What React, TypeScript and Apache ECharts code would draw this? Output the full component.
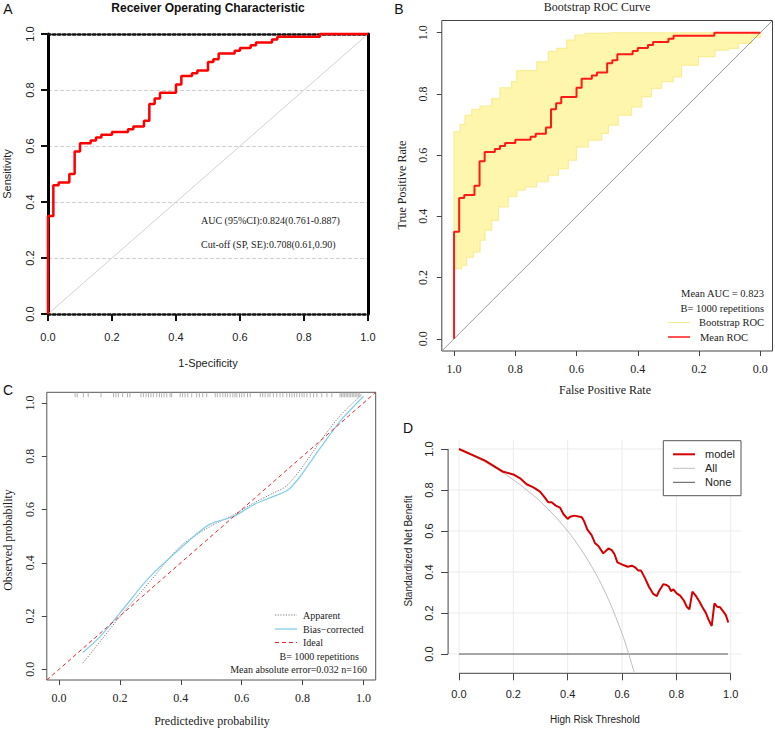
import React, { useEffect, useRef } from 'react';
import * as echarts from 'echarts';

// ---------- Panel A / B : empirical ROC (steps) ----------
const rocFpr = [0, 0, 0.0167, 0.0333, 0.0667, 0.0833, 0.1, 0.1333, 0.15, 0.1667, 0.2, 0.25, 0.2667, 0.3, 0.3167, 0.3333, 0.35, 0.4, 0.4167, 0.45, 0.4667, 0.5, 0.5167, 0.5333, 0.5833, 0.6, 0.6333, 0.65, 0.7, 0.7167, 0.85, 1];
const rocTpr = [0, 0.35, 0.46, 0.47, 0.5, 0.58, 0.61, 0.62, 0.63, 0.64, 0.65, 0.66, 0.67, 0.69, 0.75, 0.77, 0.79, 0.82, 0.85, 0.86, 0.87, 0.9, 0.91, 0.93, 0.94, 0.95, 0.96, 0.97, 0.98, 0.99, 1.0, 1.0];

// ---------- Panel B : envelope of the bootstrap ROC curves ----------
const bootUpperFpr = [0, 0.02, 0.036, 0.058, 0.085, 0.123, 0.15, 0.188, 0.205, 0.243, 0.27, 0.308, 0.335, 0.368, 0.395, 0.428, 0.51, 1];
const bootUpperTpr = [0.676, 0.7, 0.73, 0.75, 0.76, 0.785, 0.82, 0.84, 0.876, 0.876, 0.905, 0.938, 0.949, 0.976, 0.992, 0.998, 1.0, 1.0];
const bootLowerFpr = [0, 0.025, 0.041, 0.063, 0.085, 0.101, 0.123, 0.145, 0.177, 0.205, 0.232, 0.27, 0.308, 0.341, 0.373, 0.4, 0.439, 0.482, 0.504, 0.536, 0.58, 0.613, 0.645, 0.678, 0.716, 0.743, 0.798, 0.852, 0.896, 0.928, 0.961, 0.972, 1.0];
const bootLowerTpr = [0.229, 0.24, 0.267, 0.284, 0.322, 0.355, 0.387, 0.431, 0.464, 0.486, 0.496, 0.513, 0.535, 0.556, 0.584, 0.627, 0.649, 0.671, 0.698, 0.731, 0.758, 0.791, 0.818, 0.84, 0.856, 0.894, 0.922, 0.943, 0.949, 0.965, 0.965, 0.985, 1.0];

// ---------- Panel C : calibration ----------
const calApparentX = [0.078, 0.135, 0.2, 0.299, 0.398, 0.496, 0.573, 0.639, 0.704, 0.745, 0.792, 0.858, 0.923, 0.994];
const calApparentY = [0.023, 0.104, 0.198, 0.33, 0.461, 0.536, 0.58, 0.624, 0.662, 0.687, 0.749, 0.856, 0.952, 1.031];
const calBiasX = [0.078, 0.135, 0.2, 0.299, 0.43, 0.496, 0.573, 0.639, 0.704, 0.75, 0.792, 0.858, 0.923, 1.0];
const calBiasY = [0.063, 0.123, 0.211, 0.348, 0.486, 0.545, 0.574, 0.618, 0.649, 0.672, 0.724, 0.831, 0.931, 1.025];
const rugPred = [0.053, 0.06, 0.08, 0.096, 0.138, 0.179, 0.187, 0.195, 0.209, 0.225, 0.233, 0.269, 0.277, 0.286, 0.294, 0.302, 0.31, 0.321, 0.33, 0.337, 0.345, 0.354, 0.365, 0.37, 0.398, 0.406, 0.414, 0.423, 0.436, 0.452, 0.461, 0.472, 0.485, 0.513, 0.52, 0.529, 0.538, 0.546, 0.553, 0.562, 0.571, 0.578, 0.584, 0.593, 0.6, 0.608, 0.619, 0.628, 0.661, 0.669, 0.677, 0.686, 0.693, 0.704, 0.715, 0.726, 0.735, 0.748, 0.757, 0.765, 0.773, 0.781, 0.79, 0.798, 0.805, 0.814, 0.825, 0.836, 0.847, 0.863, 0.88, 0.896, 0.923, 0.928, 0.933, 0.938, 0.943, 0.948, 0.953, 0.958, 0.963, 0.968, 0.973, 0.978, 0.983, 0.988];

// ---------- Panel D : decision curve ----------
const dcaThreshold = [0, 0.096, 0.163, 0.2, 0.225, 0.249, 0.274, 0.298, 0.314, 0.329, 0.341, 0.356, 0.372, 0.384, 0.4, 0.409, 0.425, 0.452, 0.461, 0.472, 0.488, 0.501, 0.513, 0.531, 0.55, 0.562, 0.572, 0.583, 0.605, 0.621, 0.636, 0.648, 0.66, 0.67, 0.685, 0.699, 0.715, 0.728, 0.737, 0.752, 0.764, 0.773, 0.78, 0.789, 0.801, 0.814, 0.828, 0.838, 0.848, 0.859, 0.871, 0.883, 0.896, 0.908, 0.918, 0.93, 0.94, 0.95, 0.961, 0.973, 0.982, 0.991];
const dcaModel = [1.0, 0.943, 0.889, 0.876, 0.857, 0.828, 0.813, 0.792, 0.767, 0.74, 0.74, 0.724, 0.714, 0.683, 0.659, 0.67, 0.675, 0.667, 0.646, 0.608, 0.58, 0.54, 0.527, 0.491, 0.515, 0.507, 0.488, 0.447, 0.434, 0.426, 0.431, 0.423, 0.407, 0.407, 0.369, 0.328, 0.293, 0.283, 0.309, 0.34, 0.337, 0.328, 0.307, 0.315, 0.296, 0.285, 0.26, 0.231, 0.218, 0.304, 0.285, 0.26, 0.228, 0.202, 0.169, 0.137, 0.247, 0.231, 0.228, 0.207, 0.19, 0.154];
const dcaAllThreshold = [0, 0.05, 0.1, 0.15, 0.2, 0.25, 0.3, 0.35, 0.4, 0.45, 0.5, 0.55, 0.6, 0.62, 0.645];
const dcaAll = [1.0, 0.968, 0.933, 0.894, 0.85, 0.8, 0.743, 0.677, 0.6, 0.509, 0.4, 0.267, 0.1, 0.021, -0.09];
const dcaNoneThreshold = [0, 0.99];
const dcaNone = [0, 0];

const unitTicks = [0, 0.2, 0.4, 0.6, 0.8, 1.0];

// ---------- layout constants ----------
const EXT_MIN = -0.04;
const EXT_MAX = 1.04;
const SANS = 'Liberation Sans';
const SERIF = 'Liberation Serif';
const fmt = (v: number) => Number(v).toFixed(1);
const zip = (a: number[], b: number[]) => a.map((v, i) => [v, b[i]]);

function txt(text: string, x: number, y: number, family: string, size: number, o: any = {}) {
  return {
    type: 'text',
    x,
    y,
    rotation: o.rot || 0,
    z: 100,
    silent: true,
    style: {
      text,
      fill: o.color || '#111',
      fontFamily: family,
      fontSize: size,
      fontWeight: o.weight || 'normal',
      align: o.align || 'center',
      verticalAlign: 'middle',
    },
  };
}
function seg(x1: number, y1: number, x2: number, y2: number, stroke: string, lineWidth: number, lineDash?: number[]) {
  return { type: 'line', z: 100, silent: true, shape: { x1, y1, x2, y2 }, style: { stroke, lineWidth, lineDash } };
}

function rAxis(gridIndex: number, min: number, max: number, family: string, size: number, margin: number, extra: any = {}) {
  return {
    gridIndex,
    type: 'value',
    min,
    max,
    axisLine: { show: false, onZero: false },
    axisTick: { show: true, customValues: unitTicks, length: extra.tickLen || 5, lineStyle: { color: '#444', width: 1 } },
    axisLabel: { show: true, customValues: unitTicks, formatter: fmt, margin, fontFamily: family, fontSize: size, color: '#222', rotate: extra.rotate || 0 },
    splitLine: { show: false },
    inverse: !!extra.inverse,
  };
}

const option: any = {
  animation: false,
  backgroundColor: '#ffffff',
  grid: [
    { left: 48, top: 34, width: 320, height: 280, outerBoundsMode: 'none' },
    { left: 441.8, top: 20.5, width: 330.7, height: 330.5, show: true, borderColor: '#444', borderWidth: 1, backgroundColor: 'transparent', outerBoundsMode: 'none' },
    { left: 46.8, top: 392.3, width: 328.9, height: 287.7, show: true, borderColor: '#555', borderWidth: 1, backgroundColor: 'transparent', outerBoundsMode: 'none' },
    { left: 448.1, top: 440, width: 293.5, height: 233.3, outerBoundsMode: 'none' },
  ],
  xAxis: [
    {
      gridIndex: 0, type: 'value', min: 0, max: 1, interval: 0.2, position: 'bottom',
      axisLine: { show: true, onZero: false, lineStyle: { color: '#111', width: 2.5, type: 'dotted' } },
      axisTick: { show: true, length: 7, lineStyle: { color: '#111', width: 2 } },
      axisLabel: { show: true, margin: 17, formatter: fmt, fontFamily: SANS, fontSize: 11, color: '#222' },
      splitLine: { show: false },
    },
    {
      gridIndex: 0, type: 'value', min: 0, max: 1, position: 'top',
      axisLine: { show: true, onZero: false, lineStyle: { color: '#111', width: 2.5, type: 'dotted' } },
      axisTick: { show: false }, axisLabel: { show: false }, splitLine: { show: false },
    },
    rAxis(1, EXT_MIN, EXT_MAX, SERIF, 12, 12, { inverse: true }),
    rAxis(2, EXT_MIN, EXT_MAX, SERIF, 12, 12),
    rAxis(3, EXT_MIN, EXT_MAX, SANS, 11, 15.5, { tickLen: 7 }),
  ],
  yAxis: [
    {
      gridIndex: 0, type: 'value', min: 0, max: 1, interval: 0.2, position: 'left',
      axisLine: { show: true, onZero: false, lineStyle: { color: '#000', width: 3 } },
      axisTick: { show: true, length: 7, lineStyle: { color: '#111', width: 2 } },
      axisLabel: { show: true, rotate: 90, margin: 12.5, formatter: fmt, fontFamily: SANS, fontSize: 11, color: '#222' },
      splitLine: { show: true, lineStyle: { color: '#d0d0d0', type: 'dashed', width: 1 } },
    },
    {
      gridIndex: 0, type: 'value', min: 0, max: 1, position: 'right',
      axisLine: { show: true, onZero: false, lineStyle: { color: '#000', width: 3 } },
      axisTick: { show: false }, axisLabel: { show: false }, splitLine: { show: false },
    },
    rAxis(1, EXT_MIN, EXT_MAX, SERIF, 12, 12.8, { rotate: 90 }),
    rAxis(2, EXT_MIN, EXT_MAX, SERIF, 12, 11, { rotate: 90 }),
    rAxis(3, -0.094, 1.044, SANS, 11, 13.6, { rotate: 90, tickLen: 7 }),
  ],
  series: [
    // ----- A -----
    {
      type: 'line', xAxisIndex: 0, yAxisIndex: 0, silent: true, symbol: 'none',
      data: [[0, 0], [1, 1]], lineStyle: { color: '#d3d3d3', width: 1 },
    },
    {
      type: 'line', xAxisIndex: 0, yAxisIndex: 0, silent: true, symbol: 'none', step: 'end', clip: false,
      data: zip(rocFpr, rocTpr), lineStyle: { color: '#ff0000', width: 2.5 }, z: 3,
    },
    // ----- B -----
    {
      type: 'custom', xAxisIndex: 2, yAxisIndex: 2, silent: true, z: 1,
      data: [[0.5, 0.5]],
      renderItem: (params: any, api: any) => {
        const pts: number[][] = [];
        for (let i = 0; i < bootUpperFpr.length; i++) {
          const x = 1 - bootUpperFpr[i];
          if (i > 0) pts.push(api.coord([x, bootUpperTpr[i - 1]]));
          pts.push(api.coord([x, bootUpperTpr[i]]));
        }
        for (let i = bootLowerFpr.length - 1; i >= 0; i--) {
          const x = 1 - bootLowerFpr[i];
          pts.push(api.coord([x, bootLowerTpr[i]]));
          if (i > 0) pts.push(api.coord([x, bootLowerTpr[i - 1]]));
        }
        return { type: 'polygon', shape: { points: pts }, style: { fill: '#FEF6AC', stroke: '#F9ED96', lineWidth: 1.2 } };
      },
    },
    {
      type: 'line', xAxisIndex: 2, yAxisIndex: 2, silent: true, symbol: 'none',
      data: [[EXT_MAX, EXT_MIN], [EXT_MIN, EXT_MAX]], lineStyle: { color: '#9a9a9a', width: 1 }, z: 2,
    },
    {
      type: 'line', xAxisIndex: 2, yAxisIndex: 2, silent: true, symbol: 'none', step: 'end', clip: false,
      data: rocFpr.map((f, i) => [1 - f, rocTpr[i]]), lineStyle: { color: '#ff1a1a', width: 2 }, z: 3,
    },
    // ----- C -----
    {
      type: 'line', xAxisIndex: 3, yAxisIndex: 3, silent: true, symbol: 'none',
      data: [[EXT_MIN, EXT_MIN], [EXT_MAX, EXT_MAX]], lineStyle: { color: '#e8262a', width: 1, type: [4, 3] }, z: 3,
    },
    {
      type: 'line', xAxisIndex: 3, yAxisIndex: 3, silent: true, symbol: 'none', smooth: 0.3,
      data: zip(calApparentX, calApparentY), lineStyle: { color: '#777', width: 1, type: [1.2, 1.5] }, z: 2,
    },
    {
      type: 'line', xAxisIndex: 3, yAxisIndex: 3, silent: true, symbol: 'none', smooth: 0.3,
      data: zip(calBiasX, calBiasY), lineStyle: { color: '#87CEEB', width: 1.3 }, z: 2,
    },
    {
      type: 'custom', xAxisIndex: 3, yAxisIndex: 3, silent: true, z: 2,
      data: rugPred.map((v) => [v, EXT_MAX]),
      renderItem: (params: any, api: any) => {
        const p = api.coord([api.value(0), api.value(1)]);
        return { type: 'line', shape: { x1: p[0], y1: p[1], x2: p[0], y2: p[1] + 5 }, style: { stroke: '#a0a0a0', lineWidth: 0.8 } };
      },
    },
    // ----- D -----
    {
      type: 'custom', xAxisIndex: 4, yAxisIndex: 4, silent: true, z: 1,
      data: unitTicks.map((v) => [v, 0]),
      renderItem: (params: any, api: any) => {
        const cs = params.coordSys;
        const p = api.coord([api.value(0), api.value(1)]);
        return { type: 'line', shape: { x1: p[0], y1: cs.y, x2: p[0], y2: cs.y + cs.height }, style: { stroke: '#ebebeb', lineWidth: 1 } };
      },
    },
    {
      type: 'custom', xAxisIndex: 4, yAxisIndex: 4, silent: true, z: 1,
      data: unitTicks.map((v) => [0, v]),
      renderItem: (params: any, api: any) => {
        const cs = params.coordSys;
        const p = api.coord([api.value(0), api.value(1)]);
        return { type: 'line', shape: { x1: cs.x, y1: p[1], x2: cs.x + cs.width, y2: p[1] }, style: { stroke: '#ebebeb', lineWidth: 1 } };
      },
    },
    {
      type: 'custom', xAxisIndex: 4, yAxisIndex: 4, silent: true, z: 2,
      data: [[unitTicks[0], unitTicks[0]]],
      renderItem: (params: any, api: any) => {
        const cs = params.coordSys;
        const p0 = api.coord([unitTicks[0], unitTicks[0]]);
        const p1 = api.coord([unitTicks[unitTicks.length - 1], unitTicks[unitTicks.length - 1]]);
        const bottom = cs.y + cs.height;
        return {
          type: 'group',
          children: [
            { type: 'line', shape: { x1: cs.x, y1: p0[1], x2: cs.x, y2: p1[1] }, style: { stroke: '#444', lineWidth: 1 } },
            { type: 'line', shape: { x1: p0[0], y1: bottom, x2: p1[0], y2: bottom }, style: { stroke: '#444', lineWidth: 1 } },
          ],
        };
      },
    },
    {
      type: 'line', xAxisIndex: 4, yAxisIndex: 4, silent: true, symbol: 'none',
      data: zip(dcaNoneThreshold, dcaNone), lineStyle: { color: '#555', width: 1 }, z: 3,
    },
    {
      type: 'line', xAxisIndex: 4, yAxisIndex: 4, silent: true, symbol: 'none', smooth: 0.3,
      data: zip(dcaAllThreshold, dcaAll), lineStyle: { color: '#bdbdbd', width: 1 }, z: 3,
    },
    {
      type: 'line', xAxisIndex: 4, yAxisIndex: 4, silent: true, symbol: 'none',
      data: zip(dcaThreshold, dcaModel), lineStyle: { color: '#d40000', width: 2 }, z: 4,
    },
  ],
  graphic: [
    // panel letters
    txt('A', 8, 8.5, SANS, 14),
    txt('B', 399, 8.5, SANS, 14),
    txt('C', 8, 390, SANS, 14),
    txt('D', 408, 427.5, SANS, 14),
    // A
    txt('Receiver Operating Characteristic', 208, 8, SANS, 12, { weight: 'bold' }),
    txt('1-Specificity', 208, 363, SANS, 11, { color: '#222' }),
    txt('Sensitivity', 7, 174, SANS, 11, { rot: Math.PI / 2, color: '#222' }),
    txt('AUC (95%CI):0.824(0.761-0.887)', 201, 220, SERIF, 10, { align: 'left', color: '#222' }),
    txt('Cut-off (SP, SE):0.708(0.61,0.90)', 201, 244, SERIF, 10, { align: 'left', color: '#222' }),
    // B
    txt('Bootstrap ROC Curve', 597, 7, SERIF, 12, { color: '#222' }),
    txt('True Positive Rate', 402, 185, SERIF, 12, { rot: Math.PI / 2, color: '#222' }),
    txt('False Positive Rate', 605, 390, SERIF, 12, { color: '#222' }),
    txt('Mean AUC = 0.823', 764, 293, SERIF, 10.5, { align: 'right', color: '#222' }),
    txt('B= 1000 repetitions', 764, 308, SERIF, 10.5, { align: 'right', color: '#222' }),
    seg(668, 322.5, 690, 322.5, '#F5E98A', 1),
    txt('Bootstrap ROC', 764, 322.5, SERIF, 10.5, { align: 'right', color: '#222' }),
    seg(668, 337, 690, 337, '#ff1a1a', 1.5),
    txt('Mean ROC', 700, 337, SERIF, 10.5, { align: 'left', color: '#222' }),
    // C
    txt('Observed probability', 8, 540, SERIF, 12, { rot: Math.PI / 2, color: '#222' }),
    txt('Predictedive probability', 212, 721, SERIF, 12, { color: '#222' }),
    seg(275, 615, 297, 615, '#777', 1, [1.2, 1.5]),
    txt('Apparent', 303, 615, SERIF, 10, { align: 'left', color: '#222' }),
    seg(275, 629, 297, 629, '#87CEEB', 1.3),
    txt('Bias\u2212corrected', 303, 629, SERIF, 10, { align: 'left', color: '#222' }),
    seg(275, 642.5, 297, 642.5, '#e8262a', 1, [4, 3]),
    txt('Ideal', 303, 642.5, SERIF, 10, { align: 'left', color: '#222' }),
    txt('B= 1000 repetitions', 359, 656.5, SERIF, 10, { align: 'right', color: '#222' }),
    txt('Mean absolute error=0.032 n=160', 367, 669.5, SERIF, 10, { align: 'right', color: '#222' }),
    // D
    txt('High Risk Threshold', 595, 719, SANS, 10, { color: '#222' }),
    txt('Standardized Net Benefit', 408, 551, SANS, 10, { rot: Math.PI / 2, color: '#222' }),
    { type: 'rect', z: 99, silent: true, shape: { x: 663.3, y: 440.7, width: 77.7, height: 55 }, style: { fill: '#fff', stroke: '#555', lineWidth: 1 } },
    seg(673, 454.3, 695, 454.3, '#d40000', 2),
    txt('model', 705, 454.3, SANS, 11, { align: 'left', color: '#222' }),
    seg(673, 468.3, 695, 468.3, '#bdbdbd', 1),
    txt('All', 705, 468.3, SANS, 11, { align: 'left', color: '#222' }),
    seg(673, 482.3, 695, 482.3, '#555', 1),
    txt('None', 705, 482.3, SANS, 11, { align: 'left', color: '#222' }),
  ],
};

export default function App() {
  const ref = useRef<HTMLDivElement>(null);
  useEffect(() => {
    if (!ref.current) return;
    const chart = echarts.init(ref.current, null, { renderer: 'svg' });
    chart.setOption(option);
    return () => chart.dispose();
  }, []);
  return (
    <div
      ref={ref}
      style={{ position: 'fixed', left: 0, top: 0, width: 775, height: 730, background: '#fff' }}
    />
  );
}
